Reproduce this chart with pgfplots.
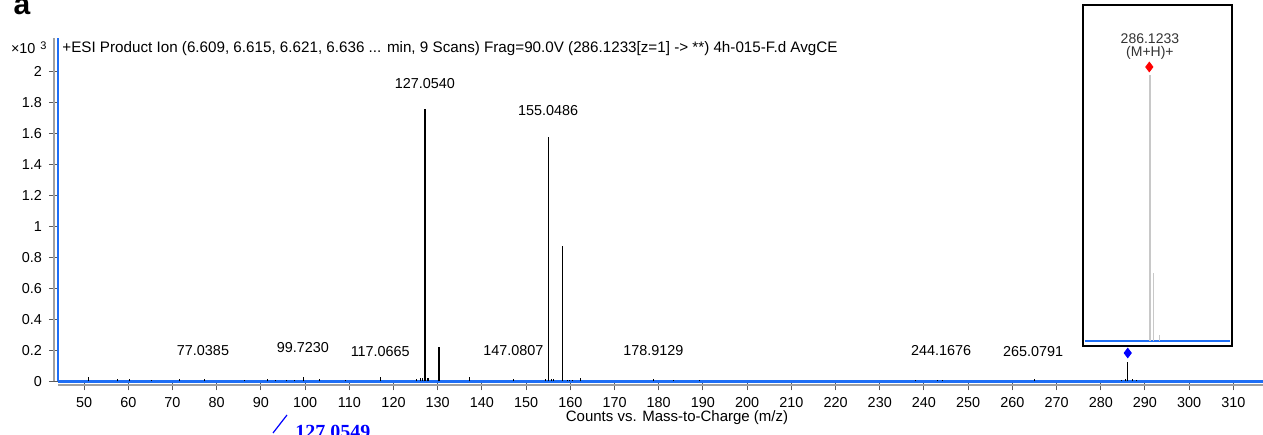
\documentclass[border=0pt]{standalone}
\usepackage{fontspec}
\setmainfont{Liberation Sans}
\newfontfamily\serifbold{Liberation Serif}
\usepackage{pgfplots}
\usepackage{pgfplotstable}
\pgfplotsset{compat=1.18}
\definecolor{msBlue}{RGB}{30,110,245}
\definecolor{shadowGrey}{RGB}{160,160,160}
\definecolor{tickGrey}{RGB}{90,90,90}
\definecolor{insetGrey}{RGB}{200,200,200}

% minor fragments (x10^3 counts)
\pgfplotstableread{
mz inten
51.1 0.03
57.5 0.015
60.2 0.012
65.3 0.01
71.5 0.015
77.2 0.015
86.4 0.01
91.4 0.015
93.4 0.01
95.7 0.01
97.7 0.01
99.7 0.03
103.3 0.015
109.2 0.01
117.1 0.025
125.1 0.012
126.2 0.02
126.5 0.02
127.6 0.02
127.9 0.02
137.1 0.03
147.1 0.018
154.3 0.012
155.8 0.015
156.2 0.012
159.3 0.01
159.8 0.01
160.4 0.01
162.2 0.022
178.9 0.015
183.3 0.01
189.2 0.01
238.0 0.01
243.0 0.01
244.2 0.01
265.1 0.015
284.7 0.01
285.5 0.015
287.1 0.015
288.1 0.01
}\minor

% main fragments
\pgfplotstableread{
mz inten
130.3 0.222
155.0486 1.576
158.3 0.874
286.1233 0.127
}\major

\begin{document}
\begin{tikzpicture}
\useasboundingbox (0pt,0pt) rectangle (631.5pt,217pt);
\begin{axis}[
  at={(29pt,26.35pt)}, anchor=south west,
  scale only axis, width=602.5pt, height=171.65pt,
  xmin=44.1, xmax=316.7, ymin=0, ymax=2.218,
  axis x line*=bottom, axis y line*=left,
  axis line style={msBlue, line width=1.3pt},
  tick align=outside, major tick length=4.5pt,
  tick style={tickGrey, line width=0.5pt},
  xtick={50,60,...,310},
  ytick={0,0.2,0.4,0.6,0.8,1,1.2,1.4,1.6,1.8,2},
  yticklabels={0,0.2,0.4,0.6,0.8,1,1.2,1.4,1.6,1.8,2},
  /pgf/number format/assume math mode=true,
  ticklabel style={font=\fontsize{7.2}{8}\selectfont, black},
  clip=false,
]
\draw[shadowGrey, line width=0.9pt] ([xshift=-1.9pt]rel axis cs:0,0) -- ([xshift=-1.9pt]rel axis cs:0,1);
\draw[shadowGrey, line width=0.9pt] ([yshift=-1.8pt]rel axis cs:0,0) -- ([yshift=-1.8pt]rel axis cs:1,0);
\addplot[ycomb, black, line width=0.5pt, mark=none] table[x=mz, y=inten] {\minor};
\addplot[ycomb, black, line width=0.6pt, mark=none] table[x=mz, y=inten] {\major};
\addplot[ycomb, black, line width=1pt, mark=none] coordinates {(127.054,1.759)};
\addplot[only marks, mark=diamond*, mark size=2.4pt, color=blue] coordinates {(286.1, 0.183)};
\begin{scope}[every node/.style={font=\fontsize{7.2}{8}\selectfont, inner sep=0pt}]
\node at (axis cs:127.1,1.925) {127.0540};
\node at (axis cs:155.0,1.748) {155.0486};
\node at (axis cs:76.9,0.196) {77.0385};
\node at (axis cs:99.5,0.215) {99.7230};
\node at (axis cs:117.0,0.190) {117.0665};
\node at (axis cs:147.1,0.196) {147.0807};
\node at (axis cs:178.8,0.196) {178.9129};
\node at (axis cs:243.9,0.196) {244.1676};
\node at (axis cs:264.7,0.191) {265.0791};
\end{scope}
\end{axis}

% inset: precursor isolation
\begin{axis}[
  at={(541.5pt,44pt)}, anchor=south west,
  scale only axis, width=74.5pt, height=170.5pt,
  xmin=269.6, xmax=306.9, ymin=-0.019, ymax=1.263,
  xtick=\empty, ytick=\empty,
  axis line style={black, line width=0.9pt},
  axis background/.style={fill=white},
  clip=false,
]
\addplot[msBlue, line width=1.2pt] coordinates {(270.0,0) (306.5,0)};
\addplot[ycomb, insetGrey, line width=0.5pt, mark=none] coordinates {(286.2,1.0) (286.45,1.0) (287.2,0.256) (288.7,0.023)};
\addplot[only marks, mark=diamond*, mark size=2.4pt, color=red] coordinates {(286.2,1.03)};
\node[font=\fontsize{7}{8}\selectfont, text=black!80, inner sep=0pt, align=center] at (axis cs:286.35,1.105) {286.1233\\[-1.5pt](M+H)+};
\end{axis}

% outer text
\node[font=\fontsize{7.6}{8}\selectfont, anchor=west, inner sep=0pt] at (31pt,192.5pt) {+ESI Product Ion (6.609, 6.615, 6.621, 6.636 ... min, 9 Scans) Frag=90.0V (286.1233[z=1] -> **) 4h-015-F.d AvgCE};
\node[font=\fontsize{7.2}{8}\selectfont, anchor=east, inner sep=0pt] at (23.5pt,193pt) {×10\hspace{2.5pt}\raisebox{2pt}{\fontsize{5.5}{6}\selectfont 3}};
\node[font=\fontsize{15}{15}\selectfont\bfseries, anchor=base, inner sep=0pt] at (11pt,209.5pt) {a};
\node[font=\fontsize{7.5}{8}\selectfont, inner sep=0pt] at (338.5pt,8pt) {Counts vs. Mass-to-Charge (m/z)};
\draw[blue, line width=0.6pt] (136.5pt,0.5pt) -- (143.5pt,9.5pt);
\node[font=\serifbold\fontsize{10}{10}\selectfont\bfseries, text=blue, anchor=north west, inner sep=0pt] at (147.5pt,4.8pt) {127.0549};
\end{tikzpicture}
\end{document}
